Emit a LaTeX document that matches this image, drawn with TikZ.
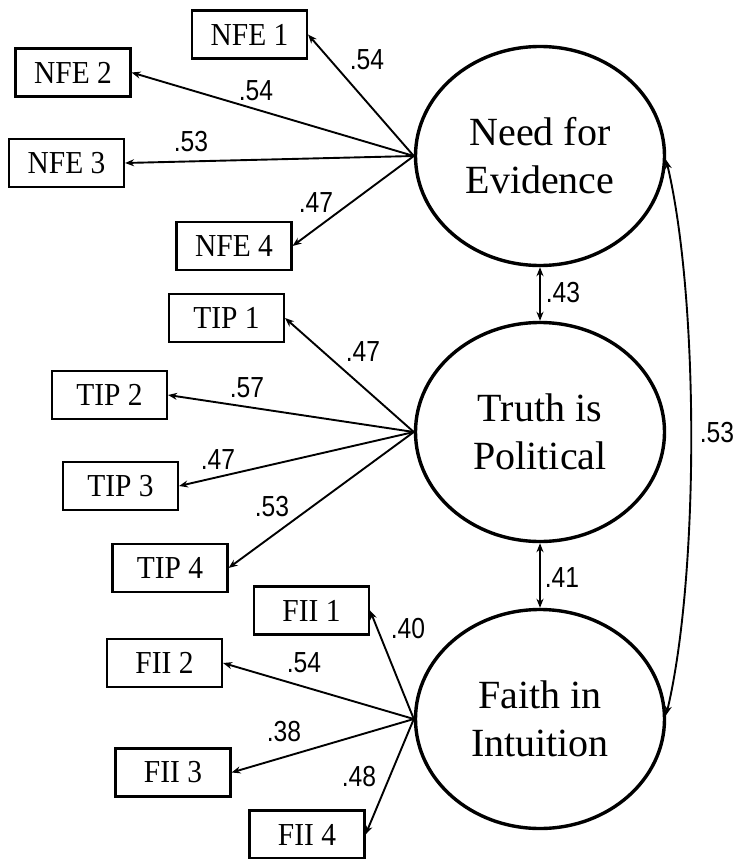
\documentclass[tikz,border=0pt]{standalone}
\usepackage{fontspec}
\setmainfont{Liberation Serif}
\newfontfamily\itemfont[FakeStretch=0.92]{Liberation Serif}
\newfontfamily\coeffont[FakeStretch=0.85]{Liberation Sans}
\usetikzlibrary{shapes.geometric,arrows.meta}
\begin{document}
\begin{tikzpicture}[x=1pt,y=-1pt,
  latent/.style={ellipse, draw, line width=3.4pt, minimum width=249pt,
    minimum height=219pt, inner sep=0pt, align=center,
    font=\fontsize{40}{48}\selectfont},
  item/.style={rectangle, draw, line width=2.1pt, minimum width=115pt,
    minimum height=48pt, inner sep=0pt, font=\itemfont\fontsize{32}{33}\selectfont},
  load/.style={-{Stealth[length=9pt,width=7pt]}, line width=1.9pt},
  corr/.style={{Stealth[length=9pt,width=7pt]}-{Stealth[length=9pt,width=7pt]}, line width=1.9pt},
  coef/.style={inner sep=0pt, font=\coeffont\fontsize{29}{30}\selectfont}]
\useasboundingbox (0,0) rectangle (735,859);

% latent factors
\node[latent] (nfe) at (540,156) {Need for\\Evidence};
\node[latent] (tip) at (540,432) {Truth is\\Political};
\node[latent] (fii) at (540,719) {Faith in\\Intuition};

% indicators
\node[item] (nfe1) at (249.5,34.5) {NFE 1};
\node[item] (nfe2) at (73,72.5) {NFE 2};
\node[item] (nfe3) at (66.5,163) {NFE 3};
\node[item] (nfe4) at (234,246) {NFE 4};

\node[item] (tip1) at (226.5,318) {TIP 1};
\node[item] (tip2) at (109.5,395) {TIP 2};
\node[item] (tip3) at (120.5,486) {TIP 3};
\node[item] (tip4) at (170,568) {TIP 4};

\node[item] (fii1) at (311.5,610.5) {FII 1};
\node[item] (fii2) at (164.5,663) {FII 2};
\node[item] (fii3) at (173,772.5) {FII 3};
\node[item] (fii4) at (307,834.5) {FII 4};

% loadings
\foreach \f in {nfe,tip,fii}{
  \foreach \i in {1,2,3,4}{
    \draw[load] (\f.west) -- (\f\i.east);
  }
}

\node[coef] (l-nfe1) at (367,60) {.54};
\node[coef] (l-nfe2) at (256,91) {.54};
\node[coef] (l-nfe3) at (191,142) {.53};
\node[coef] (l-nfe4) at (316,203) {.47};

\node[coef] (l-tip1) at (363,352) {.47};
\node[coef] (l-tip2) at (247,388) {.57};
\node[coef] (l-tip3) at (218,460) {.47};
\node[coef] (l-tip4) at (272,507) {.53};

\node[coef] (l-fii1) at (408,629) {.40};
\node[coef] (l-fii2) at (304,663) {.54};
\node[coef] (l-fii3) at (284,732) {.38};
\node[coef] (l-fii4) at (359,777) {.48};

% factor correlations
\draw[corr] (nfe.south) -- (tip.north);
\draw[corr] (tip.south) -- (fii.north);
\draw[corr] ([yshift=-4pt]nfe.east) .. controls +(33,140) and +(33,-140) .. ([yshift=4pt]fii.east);

\node[coef] (r-nt) at (563,293) {.43};
\node[coef] (r-tf) at (562,578) {.41};
\node[coef] (r-nf) at (717,433) {.53};
\end{tikzpicture}
\end{document}
